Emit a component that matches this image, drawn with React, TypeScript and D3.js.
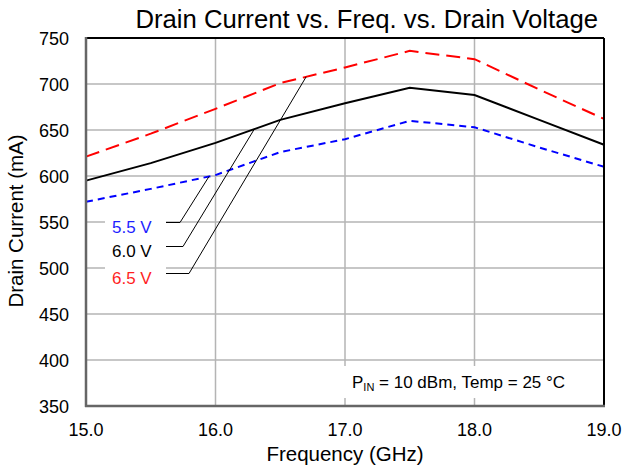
import React from "react";
import * as d3 from "d3";

const freqs = [15, 15.5, 16, 16.5, 17, 17.5, 18, 18.5, 19];
const v55 = [572, 586, 601, 626, 640, 660, 653, 631, 610];
const v60 = [595, 614, 636, 661, 679, 696, 688, 661, 634];
const v65 = [621, 646, 673, 701, 718, 736, 727, 694, 662];
const seriesNames = ["5.5 V", "6.0 V", "6.5 V"];
const labelTargets = [15.95, 16.3, 16.7];
const xTicks = [15, 16, 17, 18, 19];
const yTicks = [350, 400, 450, 500, 550, 600, 650, 700, 750];
const title = "Drain Current vs. Freq. vs. Drain Voltage";

const W = 626, H = 467;
const L = 86, T = 38, R = 604, B = 406;
const FONT = "'Liberation Sans', Arial, sans-serif";

export default function App() {
  const x = d3.scaleLinear().domain([15, 19]).range([L, R]);
  const y = d3.scaleLinear().domain([350, 750]).range([B, T]);
  const data = [v55, v60, v65];
  const colors = ["#0000ff", "#000000", "#ff0000"];
  const textColors = ["#1f1fff", "#000000", "#ff1f1f"];
  const dashes = ["7,5", "none", "14,7"];
  const line = d3
    .line<number>()
    .x((_, i) => x(freqs[i]))
    .y((d) => y(d));
  const interp = (vals: number[], f: number) => {
    const s = d3.scaleLinear().domain(freqs).range(vals);
    return s(f);
  };
  const labelY = [227, 251, 278];
  const hLineEnd = [180, 183, 189];

  return (
    <svg width={W} height={H} style={{ position: "absolute", left: 0, top: 0, background: "#fff" }}>
      <rect x={0} y={0} width={W} height={H} fill="#fff" />
      {/* grid */}
      {xTicks.slice(1, -1).map((t) => (
        <line key={"gx" + t} x1={x(t)} x2={x(t)} y1={T} y2={B} stroke="#b4b4b4" strokeWidth={1.5} />
      ))}
      {yTicks.slice(1, -1).map((t) => (
        <line key={"gy" + t} x1={L} x2={R} y1={y(t)} y2={y(t)} stroke="#b4b4b4" strokeWidth={1.5} />
      ))}
      {/* white boxes for annotations */}
      <rect x={105} y={212} width={61} height={78} fill="#fff" />
      <rect x={341} y={366} width={240} height={32} fill="#fff" />
      {/* series */}
      {data.map((vals, i) => (
        <path
          key={"s" + i}
          d={line(vals) || ""}
          fill="none"
          stroke={colors[i]}
          strokeWidth={2}
          strokeDasharray={dashes[i]}
        />
      ))}
      {/* leaders */}
      {data.map((vals, i) => (
        <polyline
          key={"ld" + i}
          points={`166,${labelY[i] - 4.5} ${hLineEnd[i]},${labelY[i] - 4.5} ${x(labelTargets[i])},${y(interp(vals, labelTargets[i]))}`}
          fill="none"
          stroke="#000"
          strokeWidth={1}
        />
      ))}
      {seriesNames.map((n, i) => (
        <text key={"lb" + i} x={112} y={labelY[i] + 6} fontSize={17} fontFamily={FONT} fill={textColors[i]}>
          {n}
        </text>
      ))}
      {/* frame */}
      <line x1={L} x2={R} y1={T} y2={T} stroke="#000" strokeWidth={2} />
      <line x1={R} x2={R} y1={T} y2={B} stroke="#000" strokeWidth={2} />
      <line x1={L} x2={L} y1={T - 1} y2={B + 1} stroke="#666" strokeWidth={2.5} />
      <line x1={L - 1} x2={R + 1} y1={B} y2={B} stroke="#666" strokeWidth={2.5} />
      {/* tick labels */}
      {yTicks.map((t) => (
        <text key={"yt" + t} x={69} y={y(t) + 6.5} textAnchor="end" fontSize={18} fontFamily={FONT} fill="#000">
          {t}
        </text>
      ))}
      {xTicks.map((t) => (
        <text key={"xt" + t} x={x(t)} y={436} textAnchor="middle" fontSize={18} fontFamily={FONT} fill="#000">
          {d3.format(".1f")(t)}
        </text>
      ))}
      <text x={(L + R) / 2} y={461} textAnchor="middle" fontSize={20.5} fontFamily={FONT} fill="#000">
        Frequency (GHz)
      </text>
      <text
        transform={`translate(23,${(T + B) / 2 - 1}) rotate(-90)`}
        textAnchor="middle"
        fontSize={20.5}
        fontFamily={FONT}
        fill="#000"
      >
        Drain Current (mA)
      </text>
      <text x={598} y={27.5} textAnchor="end" fontSize={25.7} fontFamily={FONT} fill="#000">
        {title}
      </text>
      <text x={352} y={388} fontSize={17} fontFamily={FONT} fill="#000">
        P<tspan fontSize={11} dy={3}>IN</tspan>
        <tspan dy={-3}> = 10 dBm, Temp = 25 °C</tspan>
      </text>
    </svg>
  );
}
